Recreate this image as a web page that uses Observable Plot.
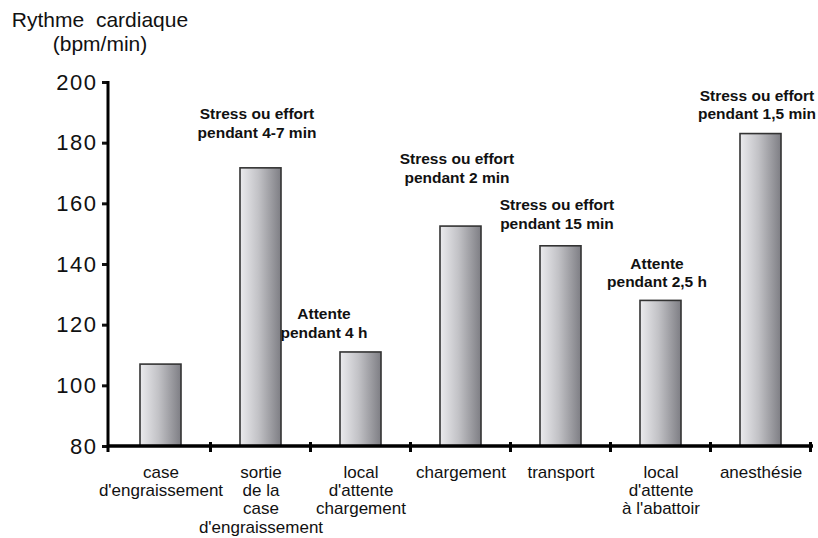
<!DOCTYPE html>
<html><head><meta charset="utf-8">
<script src="https://cdn.jsdelivr.net/npm/d3@7"></script>
<script src="https://cdn.jsdelivr.net/npm/@observablehq/plot@0.6"></script>
<style>
body{margin:0;background:#fff;}
#wrap{position:relative;width:818px;height:538px;font-family:"Liberation Sans",Arial,Helvetica,sans-serif;}
#title{position:absolute;left:0;top:8px;width:200px;text-align:center;font-size:21px;line-height:24px;white-space:pre;color:#111;}
#wrap svg g[aria-label="y-axis tick label"]{font-size:22px;}
#wrap svg g[aria-label="y-axis tick label"] text{letter-spacing:1.5px;}
</style></head><body>
<div id="wrap"><div id="title">Rythme  cardiaque
(bpm/min)</div></div>
<script>
const categories = [
  "case\nd'engraissement",
  "sortie\nde la\ncase\nd'engraissement",
  "local\nd'attente\nchargement",
  "chargement",
  "transport",
  "local\nd'attente\nà l'abattoir",
  "anesthésie"
];
const heartRate = [107, 171.7, 111, 152.5, 146, 128, 183];
const yTicks = [80, 100, 120, 140, 160, 180, 200];
const notes = [
  "",
  "Stress ou effort\npendant 4-7 min",
  "Attente\npendant 4 h",
  "Stress ou effort\npendant 2 min",
  "Stress ou effort\npendant 15 min",
  "Attente\npendant 2,5 h",
  "Stress ou effort\npendant 1,5 min"
];
const noteLevel = [null, 186.8, 120.9, 172, 156.7, 137.5, 192.9];

const table = categories.map((c, i) => ({category: c, rate: heartRate[i], note: notes[i], level: noteLevel[i]}));
const noteRows = table.filter(d => d.note && d.category !== categories[2]);
const noteShifted = table.filter(d => d.category === categories[2]);

const gradient = () => {
  const s = d3.create("svg:defs");
  const g = s.append("linearGradient").attr("id", "barGrad").attr("x1", "0").attr("x2", "1").attr("y1", "0").attr("y2", "0");
  g.append("stop").attr("offset", "0%").attr("stop-color", "#ebebee");
  g.append("stop").attr("offset", "45%").attr("stop-color", "#c2c2c6");
  g.append("stop").attr("offset", "100%").attr("stop-color", "#7e7e84");
  return s.node();
};

const axisLines = (index, scales, values, dims) => {
  const {x, y} = scales;
  const xl = dims.marginLeft, xr = dims.width - dims.marginRight;
  const yb = y(80), yt = y(200);
  const g = d3.create("svg:g").attr("stroke", "#000").attr("fill", "none");
  g.append("line").attr("x1", xl).attr("x2", xl).attr("y1", yt - 1).attr("y2", yb + 6).attr("stroke-width", 3);
  g.append("line").attr("x1", xl).attr("x2", xr).attr("y1", yb).attr("y2", yb).attr("stroke-width", 3.5);
  const step = x.step ? x.step() : (xr - xl) / categories.length;
  const bw = x.bandwidth ? x.bandwidth() : step * 0.41;
  const edges = categories.map(c => x(c) - (step - bw) / 2);
  edges.push(edges[edges.length - 1] + step);
  edges.slice(1).forEach(e => {
    g.append("line").attr("x1", e).attr("x2", e).attr("y1", yb - 4).attr("y2", yb + 6).attr("stroke-width", 3);
  });
  return g.node();
};

const chart = Plot.plot({
  width: 818,
  height: 538,
  marginLeft: 108,
  marginRight: 5,
  marginTop: 82,
  marginBottom: 92,
  style: {fontFamily: '"Liberation Sans", Arial, Helvetica, sans-serif', color: "#111", background: "#fff", overflow: "visible"},
  x: {domain: categories, paddingInner: 0.59, paddingOuter: 0.295, label: null},
  y: {domain: [80, 200], label: null},
  marks: [
    gradient,
    Plot.barY(table, {x: "category", y1: 80, y2: "rate", fill: "url(#barGrad)", stroke: "#333", strokeWidth: 1.6}),
    Plot.axisY({ticks: yTicks, tickSize: 6, tickPadding: 5, strokeWidth: 3, fontSize: 22, label: null, tickFormat: d => String(d)}),
    Plot.axisX({tickSize: 0, tickPadding: 18, fontSize: 17, lineHeight: 1.08, label: null}),
    axisLines,
    Plot.text(noteRows, {x: "category", y: "level", text: "note", fontSize: 15.5, fontWeight: "bold", lineHeight: 1.2, lineAnchor: "middle", dx: -4, fill: "#111"}),
    Plot.text(noteShifted, {x: "category", y: "level", text: "note", fontSize: 15.5, fontWeight: "bold", lineHeight: 1.2, lineAnchor: "middle", dx: -37, fill: "#111"})
  ]
});
document.getElementById("wrap").appendChild(chart);
</script>
</body></html>
